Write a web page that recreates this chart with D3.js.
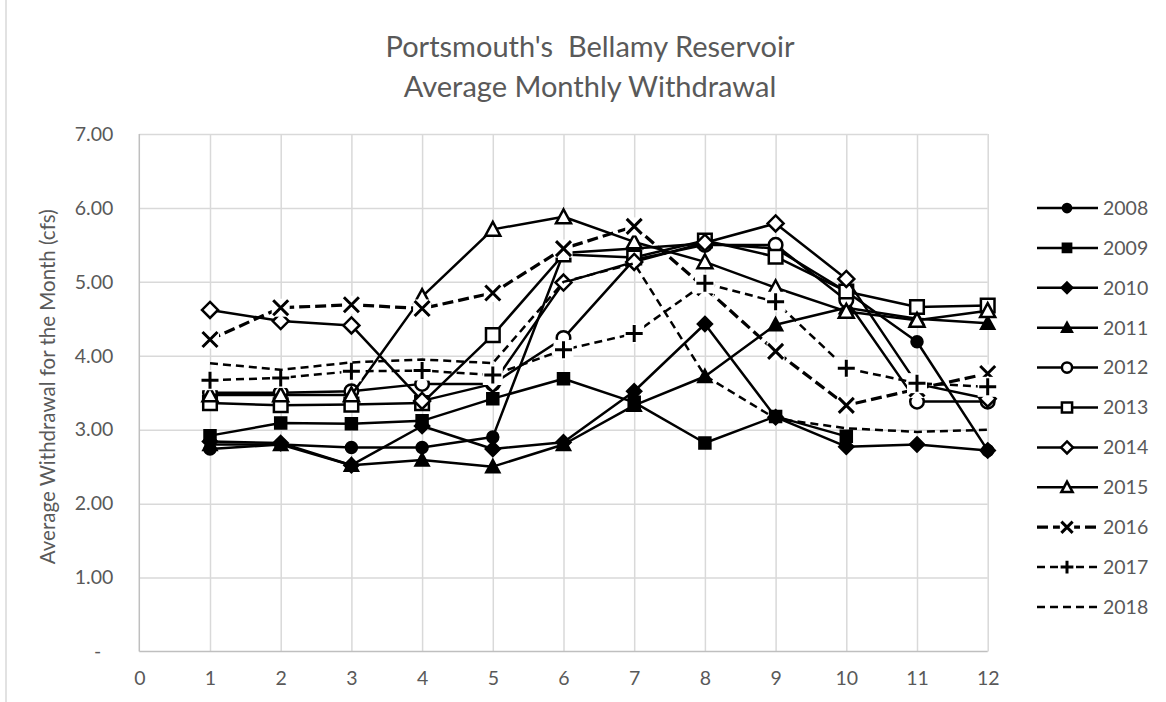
<!DOCTYPE html>
<html lang="en">
<head>
  <meta charset="UTF-8">
  <title>Bellamy Reservoir Average Monthly Withdrawal</title>
  <script src="https://d3js.org/d3.v7.min.js"></script>
  <style>
    body {
      margin: 0;
      background: #fff;
    }
    svg text {
      font-family: Lato, "Open Sans", sans-serif;
      fill: #595959;
    }
  </style>
</head>
<body>
  <svg id="chart" width="1166" height="702"></svg>

  <script>
    // months on the x axis
    const months = [1, 2, 3, 4, 5, 6, 7, 8, 9, 10, 11, 12];
    const years = ["2008", "2009", "2010", "2011", "2012", "2013", "2014", "2015", "2016", "2017", "2018"];

    // average withdrawal (cfs) per month
    const s2008 = [2.74, 2.80, 2.76, 2.76, 2.90, 5.39, 5.45, 5.52, 5.45, 4.87, 4.19, 2.72];
    const s2009 = [2.92, 3.09, 3.08, 3.12, 3.42, 3.69, 3.37, 2.82, 3.18, 2.91];
    const s2010 = [2.84, 2.82, 2.52, 3.05, 2.74, 2.83, 3.52, 4.43, 3.17, 2.77, 2.80, 2.72];
    const s2011 = [2.80, 2.80, 2.52, 2.59, 2.50, 2.80, 3.33, 3.72, 4.42, 4.65, 4.50, 4.44];
    const s2012 = [3.50, 3.50, 3.52, 3.62, 3.62, 4.24, 5.30, 5.50, 5.50, 4.75, 3.38, 3.38];
    const s2013 = [3.36, 3.33, 3.34, 3.36, 4.28, 5.37, 5.33, 5.56, 5.34, 4.87, 4.66, 4.68];
    const s2014 = [4.62, 4.47, 4.41, 3.39, 3.62, 4.99, 5.27, 5.53, 5.79, 5.04, 3.62, 3.42];
    const s2015 = [3.47, 3.47, 3.47, 4.80, 5.71, 5.88, 5.54, 5.27, 4.92, 4.60, 4.48, 4.61];
    const s2016 = [4.22, 4.65, 4.69, 4.64, 4.85, 5.45, 5.75, 4.92, 4.06, 3.33, 3.55, 3.76];
    const s2017 = [3.67, 3.70, 3.79, 3.80, 3.74, 4.08, 4.30, 4.98, 4.73, 3.83, 3.63, 3.58];
    const s2018 = [3.90, 3.81, 3.91, 3.95, 3.90, 5.00, 5.25, 3.73, 3.15, 3.02, 2.97, 3.00];

    const yTicks = [0, 1, 2, 3, 4, 5, 6, 7];
    const yTickLabels = ["-", "1.00", "2.00", "3.00", "4.00", "5.00", "6.00", "7.00"];
    const xTicks = [0, 1, 2, 3, 4, 5, 6, 7, 8, 9, 10, 11, 12];

    const seriesValues = [s2008, s2009, s2010, s2011, s2012, s2013, s2014, s2015, s2016, s2017, s2018];
    // marker shape, filled?, dash pattern, line width
    const styles = [
      { shape: "circle", solid: true, dash: null, w: 2.5 },
      { shape: "square", solid: true, dash: null, w: 2.5 },
      { shape: "diamond", solid: true, dash: null, w: 2.5 },
      { shape: "triangle", solid: true, dash: null, w: 2.5 },
      { shape: "circle", solid: false, dash: null, w: 2.5 },
      { shape: "square", solid: false, dash: null, w: 2.5 },
      { shape: "diamond", solid: false, dash: null, w: 2.5 },
      { shape: "triangle", solid: false, dash: null, w: 2.5 },
      { shape: "x", solid: false, dash: "11,5", w: 3.25 },
      { shape: "plus", solid: false, dash: "8,5", w: 2.5 },
      { shape: "none", solid: false, dash: "8,5", w: 2.5 }
    ];

    const series = years.map((yr, i) => ({
      name: yr,
      style: styles[i],
      points: seriesValues[i].map((v, j) => ({ m: months[j], v: v }))
    }));

    const svg = d3.select("#chart");
    const plotLeft = 139.3, plotRight = 987.7, plotTop = 134, plotBottom = 651.5;

    const x = d3.scaleLinear().domain([0, 12]).range([plotLeft, plotRight]);
    const y = d3.scaleLinear().domain([0, 7]).range([plotBottom, plotTop]);

    // chart border
    svg.append("rect")
      .attr("x", 6).attr("y", -10)
      .attr("width", 1300).attr("height", 800)
      .attr("fill", "none").attr("stroke", "#d9d9d9").attr("stroke-width", 1.5);

    // gridlines
    svg.append("g")
      .attr("transform", `translate(${plotLeft},0)`)
      .call(d3.axisLeft(y).tickValues(yTicks.slice(1)).tickSize(-(plotRight - plotLeft)).tickFormat(""))
      .call(g => g.select(".domain").remove())
      .selectAll("line").attr("stroke", "#d9d9d9").attr("stroke-width", 1.5);

    svg.append("g")
      .attr("transform", `translate(0,${plotBottom})`)
      .call(d3.axisBottom(x).tickValues(xTicks.slice(1)).tickSize(-(plotBottom - plotTop)).tickFormat(""))
      .call(g => g.select(".domain").remove())
      .selectAll("line").attr("stroke", "#d9d9d9").attr("stroke-width", 1.5);

    // axis lines
    svg.append("line")
      .attr("x1", plotLeft).attr("x2", plotLeft).attr("y1", plotTop).attr("y2", plotBottom)
      .attr("stroke", "#bfbfbf").attr("stroke-width", 1.5);
    svg.append("line")
      .attr("x1", plotLeft).attr("x2", plotRight).attr("y1", plotBottom).attr("y2", plotBottom)
      .attr("stroke", "#bfbfbf").attr("stroke-width", 1.5);

    // tick labels
    const yAxis = svg.append("g")
      .attr("transform", `translate(${plotLeft - 23},0)`)
      .call(d3.axisLeft(y).tickValues(yTicks).tickSize(0).tickFormat((d, i) => yTickLabels[i]));
    yAxis.select(".domain").remove();
    yAxis.selectAll("text")
      .style("font-size", "19.5px")
      .attr("fill", "#595959")
      .attr("dx", d => d === 0 ? -12 : 0);

    const xAxis = svg.append("g")
      .attr("transform", `translate(0,${plotBottom + 17})`)
      .call(d3.axisBottom(x).tickValues(xTicks).tickSize(0).tickFormat(d3.format("d")));
    xAxis.select(".domain").remove();
    xAxis.selectAll("text")
      .style("font-size", "19.5px")
      .attr("fill", "#595959");

    // title
    const title = svg.append("text")
      .attr("x", 590)
      .attr("text-anchor", "middle")
      .style("font-size", "29px");
    title.append("tspan").attr("x", 590).attr("y", 57).text("Portsmouth's  Bellamy Reservoir").style("white-space", "pre");
    title.append("tspan").attr("x", 590).attr("y", 97).text("Average Monthly Withdrawal");

    // y axis title
    svg.append("text")
      .attr("transform", `translate(55,${(plotTop + plotBottom) / 2 - 6}) rotate(-90)`)
      .attr("text-anchor", "middle")
      .style("font-size", "20.5px")
      .text("Average Withdrawal for the Month (cfs)");

    function markerPath(shape, s) {
      if (shape === "circle") return d3.symbol(d3.symbolCircle, Math.PI * s * s)();
      if (shape === "square") return `M${-s},${-s}H${s}V${s}H${-s}Z`;
      if (shape === "diamond") return `M0,${-s}L${s},0L0,${s}L${-s},0Z`;
      if (shape === "triangle") return `M0,${-s}L${s},${s * 0.85}L${-s},${s * 0.85}Z`;
      if (shape === "x") return `M${-s},${-s}L${s},${s}M${s},${-s}L${-s},${s}`;
      if (shape === "plus") return `M${-s},0H${s}M0,${-s}V${s}`;
      return "";
    }

    function markerSize(st, scale) {
      let s;
      if (st.shape === "x") s = 7.5;
      else if (st.shape === "plus") s = 8.5;
      else if (st.solid) s = st.shape === "diamond" ? 7 : st.shape === "triangle" ? 6.5 : 5.5;
      else s = st.shape === "diamond" ? 8 : st.shape === "triangle" ? 7.5 : 6.8;
      return s * scale;
    }

    function drawMarker(g, st, scale) {
      if (st.shape === "none") return;
      const s = markerSize(st, scale);
      if (st.shape === "x" || st.shape === "plus") {
        // these markers sit on a white box
        g.append("rect")
          .attr("x", -s - 1.5).attr("y", -s - 1.5)
          .attr("width", 2 * s + 3).attr("height", 2 * s + 3)
          .attr("fill", "#fff");
        g.append("path")
          .attr("d", markerPath(st.shape, s))
          .attr("fill", "none")
          .attr("stroke", "#000")
          .attr("stroke-width", 3);
      } else {
        g.append("path")
          .attr("d", markerPath(st.shape, s))
          .attr("fill", st.solid ? "#000" : "#fff")
          .attr("stroke", "#000")
          .attr("stroke-width", 2.5)
          .attr("stroke-linejoin", "miter");
      }
    }

    const line = d3.line()
      .x(d => x(d.m))
      .y(d => y(d.v));

    // draw series in order, line then markers
    series.forEach(sr => {
      const g = svg.append("g").attr("class", "series");
      g.append("path")
        .datum(sr.points)
        .attr("d", line)
        .attr("fill", "none")
        .attr("stroke", "#000")
        .attr("stroke-width", sr.style.w)
        .attr("stroke-dasharray", sr.style.dash)
        .attr("stroke-linejoin", "round");

      g.selectAll("g.mk")
        .data(sr.points)
        .enter().append("g")
        .attr("class", "mk")
        .attr("transform", d => `translate(${x(d.m)},${y(d.v)})`)
        .each(function () { drawMarker(d3.select(this), sr.style, 1); });
    });

    // legend
    const legend = svg.append("g").attr("transform", "translate(1037,208)");
    series.forEach((sr, i) => {
      const row = legend.append("g").attr("transform", `translate(0,${i * 39.9})`);
      row.append("line")
        .attr("x1", 0).attr("x2", 61)
        .attr("stroke", "#000")
        .attr("stroke-width", sr.style.w)
        .attr("stroke-dasharray", sr.style.dash);
      const mk = row.append("g").attr("transform", "translate(30,0)");
      drawMarker(mk, sr.style, 0.75);
      row.append("text")
        .attr("x", 66)
        .attr("dy", "0.35em")
        .style("font-size", "19.5px")
        .text(sr.name);
    });
  </script>
</body>
</html>
